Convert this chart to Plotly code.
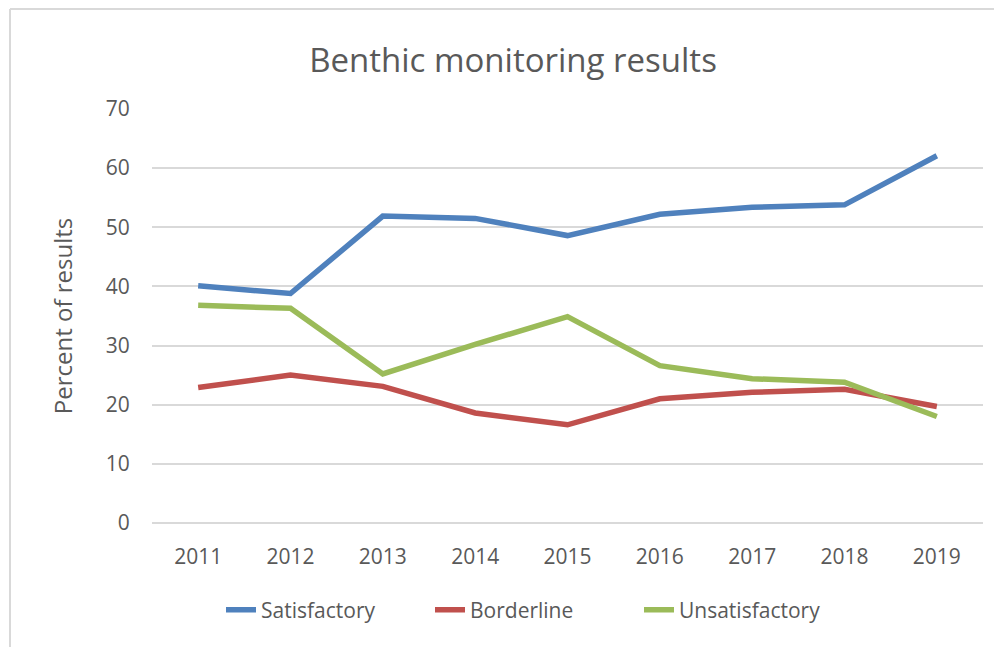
import plotly.graph_objects as go

years = ["2011", "2012", "2013", "2014", "2015", "2016", "2017", "2018", "2019"]
satisfactory = [40.1, 38.8, 51.9, 51.5, 48.6, 52.2, 53.4, 53.8, 62.1]
borderline = [22.9, 25.0, 23.1, 18.6, 16.6, 21.0, 22.1, 22.6, 19.7]
unsatisfactory = [36.8, 36.3, 25.2, 30.2, 34.9, 26.6, 24.4, 23.8, 18.0]

series_names = ["Satisfactory", "Borderline", "Unsatisfactory"]
colors = ["#4f81bd", "#c0504d", "#9bbb59"]

FONT = "Open Sans"
GRAY = "#595959"

# page body has an 8px margin, so the figure is drawn 8px in from the window edge
W, H = 994, 639
L, R, T, B = 144, 19, 101, 124
pw, ph = W - L - R, H - T - B

fig = go.Figure()
for name, vals, col in zip(series_names, [satisfactory, borderline, unsatisfactory], colors):
    fig.add_trace(go.Scatter(x=years, y=vals, mode="lines", name=name,
                             line=dict(color=col, width=5.5)))

def px_x(x):
    return (x - L) / pw

def px_y(y):
    return (H - B - y) / ph

# chart border (top and left edges visible)
fig.add_shape(type="line", xref="paper", yref="paper",
              x0=px_x(2), x1=px_x(W), y0=px_y(1), y1=px_y(1),
              line=dict(color="#d9d9d9", width=2))
fig.add_shape(type="line", xref="paper", yref="paper",
              x0=px_x(2), x1=px_x(2), y0=px_y(1), y1=px_y(H),
              line=dict(color="#d9d9d9", width=2))

fig.update_layout(
    width=W, height=H,
    margin=dict(l=L, r=R, t=T, b=B),
    paper_bgcolor="white", plot_bgcolor="white",
    font=dict(family=FONT, color=GRAY, size=21),
    title=dict(text="Benthic monitoring results", x=505 / W, xanchor="center",
               y=1 - 52 / H, yanchor="middle", xref="container", yref="container",
               font=dict(size=33, color=GRAY, family=FONT)),
    showlegend=True,
    legend=dict(orientation="h", x=px_x(213), xanchor="left", y=px_y(602), yanchor="middle",
                font=dict(size=21, color=GRAY, family=FONT), bgcolor="rgba(0,0,0,0)",
                entrywidth=164, entrywidthmode="pixels"),
    xaxis=dict(type="category", showgrid=False, zeroline=False, showline=False,
               ticks="outside", ticklen=15, tickcolor="rgba(0,0,0,0)",
               tickfont=dict(size=21, color=GRAY), range=[-0.5, 8.5]),
    yaxis=dict(range=[0, 70], dtick=10, showgrid=True, gridcolor="#d9d9d9", gridwidth=2,
               zeroline=True, zerolinecolor="#d9d9d9", zerolinewidth=2, showline=False,
               ticks="outside", ticklen=17, tickcolor="rgba(0,0,0,0)",
               tickfont=dict(size=21, color=GRAY),
               title=dict(text="Percent of results", font=dict(size=24, color=GRAY), standoff=26)),
)

fig.write_html("out.html")
